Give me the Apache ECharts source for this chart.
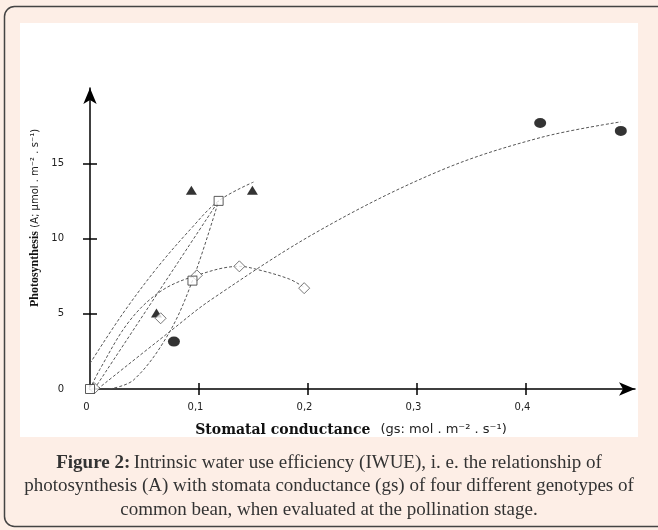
<!DOCTYPE html>
<html>
<head>
<meta charset="utf-8">
<script src="https://cdn.jsdelivr.net/npm/echarts@6/dist/echarts.min.js"></script>
<style>
html,body{margin:0;padding:0;background:#fdeee6;}
#c{width:658px;height:530px;}
</style>
</head>
<body>
<div id="c"></div>
<script>
// ---- data ----
const xTickValues = [0.1, 0.2, 0.3, 0.4];
const xLabelValues = [0, 0.1, 0.2, 0.3, 0.4];
const yTickValues = [5, 10, 15];
const yLabelValues = [0, 5, 10, 15];

// genotype markers (x = gs, y = A)
const circlePts   = [[0.077, 3.15], [0.413, 17.67], [0.487, 17.15]];
const trianglePts = [[0.061, 5.05], [0.093, 13.2], [0.149, 13.2]];
const diamondPts  = [[0.004, 0.05], [0.0648, 4.7], [0.098, 7.55], [0.137, 8.15], [0.1965, 6.7]];
const squarePts   = [[0, 0], [0.094, 7.2], [0.118, 12.5]];

// fitted curves
const circleFit   = [[0.007, 0], [0.073, 3.8], [0.111, 5.93], [0.211, 10.55], [0.321, 14.5], [0.413, 16.7], [0.487, 17.75]];
const triangleFit = [[0, 1.7], [0.03, 5.0], [0.061, 8.0], [0.092, 10.6], [0.118, 12.5], [0.150, 13.75]];
const squareFit   = [[0.018, 0], [0.04, 0.6], [0.0715, 3.6], [0.094, 7.2], [0.118, 12.5]];
const squareLine  = [[0.004, 0], [0.118, 12.5]];
const diamondFit  = [[0, 0], [0.009, 1.3], [0.036, 4.5], [0.065, 6.5], [0.098, 7.55], [0.137, 8.15], [0.153, 7.95], [0.183, 7.3], [0.1965, 6.75]];

const captionLines = [
  'Intrinsic water use efficiency (IWUE), i. e. the relationship of',
  'photosynthesis (A) with stomata conductance (gs) of four different genotypes of',
  'common bean, when evaluated at the pollination stage.'
];

const chart = echarts.init(document.getElementById('c'), null, {renderer: 'canvas'});

const fitStyle = {color: '#555', width: 1, type: [3, 2]};
function fitSeries(data) {
  return {type: 'line', data: data, smooth: 0.35, symbol: 'none', lineStyle: fitStyle, z: 2, silent: true};
}
const sans = 'DejaVu Sans';
const serif = 'Liberation Serif';

const option = {
  backgroundColor: '#fdeee6',
  animation: false,
  grid: {left: 90, right: 23, top: 88, bottom: 141},
  xAxis: [{
    type: 'value', min: 0, max: 0.5,
    axisLine: {show: true, lineStyle: {color: '#000', width: 1.5}, symbol: ['none', 'arrow'], symbolSize: [10, 16]},
    axisTick: {show: true, customValues: xTickValues, length: 6, lineStyle: {color: '#000', width: 1.5}},
    axisLabel: {customValues: xLabelValues, margin: 13, color: '#222', fontFamily: sans, fontSize: 10,
      padding: [0, 7, 0, 0],
      formatter: v => String(v).replace('.', ',')},
    splitLine: {show: false}
  }, {
    type: 'value', min: 0, max: 0.5, position: 'bottom',
    axisLine: {show: false},
    axisTick: {show: true, inside: true, customValues: xTickValues, length: 6, lineStyle: {color: '#000', width: 1.5}},
    axisLabel: {show: false}, splitLine: {show: false}
  }],
  yAxis: [{
    type: 'value', min: 0, max: 20,
    axisLine: {show: true, lineStyle: {color: '#000', width: 1.5}, symbol: ['none', 'arrow'], symbolSize: [10, 16]},
    axisTick: {show: true, customValues: yTickValues, length: 7, lineStyle: {color: '#000', width: 1.5}},
    axisLabel: {customValues: yLabelValues, margin: 26, color: '#222', fontFamily: sans, fontSize: 10},
    splitLine: {show: false}
  }, {
    type: 'value', min: 0, max: 20, position: 'left',
    axisLine: {show: false},
    axisTick: {show: true, inside: true, customValues: yTickValues, length: 7, lineStyle: {color: '#000', width: 1.5}},
    axisLabel: {show: false}, splitLine: {show: false}
  }],
  series: [
    fitSeries(circleFit),
    fitSeries(triangleFit),
    fitSeries(squareFit),
    fitSeries(squareLine),
    fitSeries(diamondFit),
    {type: 'scatter', data: circlePts, symbol: 'circle', symbolSize: [12, 10], itemStyle: {color: '#000'}, z: 3},
    {type: 'scatter', data: trianglePts, symbol: 'triangle', symbolSize: [11, 9], itemStyle: {color: '#000'}, z: 3},
    {type: 'scatter', data: diamondPts, symbol: 'diamond', symbolSize: [11, 11], itemStyle: {color: '#fff', borderColor: '#555', borderWidth: 1}, z: 4},
    {type: 'scatter', data: squarePts, symbol: 'rect', symbolSize: [9, 9], itemStyle: {color: '#fff', borderColor: '#333', borderWidth: 1}, z: 5}
  ],
  graphic: [
    {type: 'rect', z: -20, silent: true, shape: {x: 4.5, y: 6.5, width: 700, height: 520, r: 10},
      style: {fill: '#fdeee6', stroke: '#444', lineWidth: 1.5}},
    {type: 'rect', z: -10, silent: true, shape: {x: 20, y: 23, width: 618, height: 414},
      style: {fill: '#fff'}},
    {type: 'text', z: 10, silent: true, x: 35, y: 218, rotation: Math.PI / 2,
      style: {
        text: '{b|Photosynthesis} {s|(A; μmol . m⁻² . s⁻¹)}',
        textAlign: 'center', textVerticalAlign: 'middle',
        rich: {
          b: {fontFamily: serif, fontWeight: 'bold', fontSize: 12, fill: '#111'},
          s: {fontFamily: sans, fontSize: 10, fill: '#222'}
        }
      }},
    {type: 'text', z: 10, silent: true, x: 351, y: 430,
      style: {
        text: '{b|Stomatal conductance}   {s|(gs: mol . m⁻² . s⁻¹)}',
        textAlign: 'center', textVerticalAlign: 'middle',
        rich: {
          b: {fontFamily: 'DejaVu Serif', fontWeight: 'bold', fontSize: 14, fill: '#111'},
          s: {fontFamily: sans, fontSize: 13, fill: '#222'}
        }
      }},
    {type: 'text', z: 10, silent: true, x: 329, y: 463,
      style: {
        text: '{b|Figure 2:} {n|' + captionLines[0] + '}',
        textAlign: 'center', textVerticalAlign: 'middle',
        rich: {
          b: {fontFamily: serif, fontWeight: 'bold', fontSize: 19, fill: '#333'},
          n: {fontFamily: serif, fontSize: 19, fill: '#333'}
        }
      }},
    {type: 'text', z: 10, silent: true, x: 329, y: 486.5,
      style: {text: captionLines[1], font: '19px "Liberation Serif"', fill: '#333', textAlign: 'center', textVerticalAlign: 'middle'}},
    {type: 'text', z: 10, silent: true, x: 329, y: 510,
      style: {text: captionLines[2], font: '19px "Liberation Serif"', fill: '#333', textAlign: 'center', textVerticalAlign: 'middle'}}
  ]
};
chart.setOption(option);
</script>
</body>
</html>
